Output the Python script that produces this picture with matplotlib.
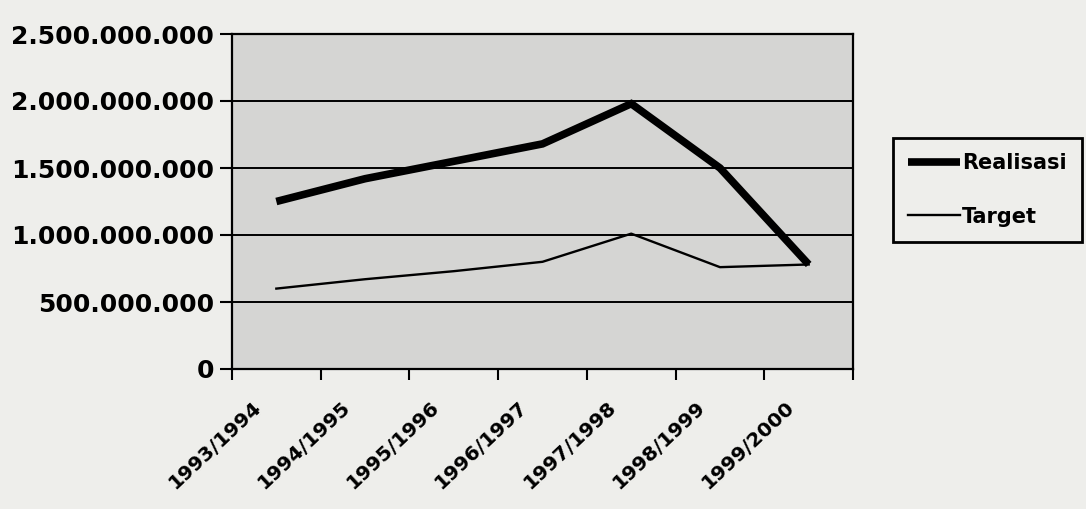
import matplotlib
matplotlib.use("Agg")
import matplotlib.pyplot as plt
import matplotlib.transforms as mtransforms
from matplotlib.ticker import FuncFormatter, FixedLocator

categories = ["1993/1994", "1994/1995", "1995/1996", "1996/1997",
              "1997/1998", "1998/1999", "1999/2000"]
realisasi = [1.25e9, 1.42e9, 1.55e9, 1.68e9, 1.98e9, 1.50e9, 0.78e9]
target = [0.60e9, 0.67e9, 0.73e9, 0.80e9, 1.01e9, 0.76e9, 0.78e9]
y_ticks = [0, 0.5e9, 1.0e9, 1.5e9, 2.0e9, 2.5e9]

paper = "#eeeeeb"
plot_bg = "#d5d5d3"

fig = plt.figure(figsize=(10.86, 5.09), dpi=100, facecolor=paper)
ax = fig.add_axes([0.2136, 1 - 369 / 509, 0.5719, (369 - 34) / 509])
ax.set_facecolor(plot_bg)

x = list(range(len(categories)))
ax.plot(x, realisasi, color="black", lw=5.5, solid_capstyle="butt",
        solid_joinstyle="miter", label="Realisasi", zorder=3)
ax.plot(x, target, color="black", lw=1.7, label="Target", zorder=3)

ax.set_xlim(-0.5, len(categories) - 0.5)
ax.set_ylim(0, 2.5e9)
ax.set_yticks(y_ticks)
ax.yaxis.set_major_formatter(
    FuncFormatter(lambda v, p: "0" if v == 0 else f"{int(v):,}".replace(",", ".")))
ax.grid(axis="y", color="black", lw=1.4, zorder=1)
ax.set_axisbelow(True)

ax.xaxis.set_major_locator(FixedLocator([i - 0.5 for i in range(len(categories) + 1)]))
ax.xaxis.set_major_formatter(FuncFormatter(lambda v, p: ""))
ax.xaxis.set_minor_locator(FixedLocator(x))
ax.set_xticklabels(categories, minor=True, rotation=43, ha="right",
                   rotation_mode="anchor", fontsize=14.5, fontweight="bold",
                   family="DejaVu Sans")
ax.tick_params(axis="x", which="minor", length=0, pad=12)
ax.tick_params(axis="x", which="major", length=8, width=1.5, direction="out")
ax.tick_params(axis="y", length=9, width=1.5, direction="out", pad=4,
               labelsize=18)
for lab in ax.get_yticklabels():
    lab.set_fontweight("bold")
    lab.set_family("DejaVu Sans")

offset = mtransforms.ScaledTranslation(-24 / 100, -12 / 100, fig.dpi_scale_trans)
for lab in ax.xaxis.get_minorticklabels():
    lab.set_transform(lab.get_transform() + offset)

for s in ax.spines.values():
    s.set_color("black")
    s.set_linewidth(1.6)

leg = fig.legend(loc="center left", bbox_to_anchor=(893 / 1086, 1 - 190 / 509),
                 frameon=True, fancybox=False, edgecolor="black",
                 facecolor=paper, framealpha=1, handlelength=2.5,
                 handletextpad=0.1, labelspacing=1.6, borderpad=0.72,
                 borderaxespad=0,
                 prop={"family": "DejaVu Sans", "weight": "bold", "size": 15})
leg.get_frame().set_linewidth(2)

fig.savefig("out.png", dpi=100, facecolor=paper)
